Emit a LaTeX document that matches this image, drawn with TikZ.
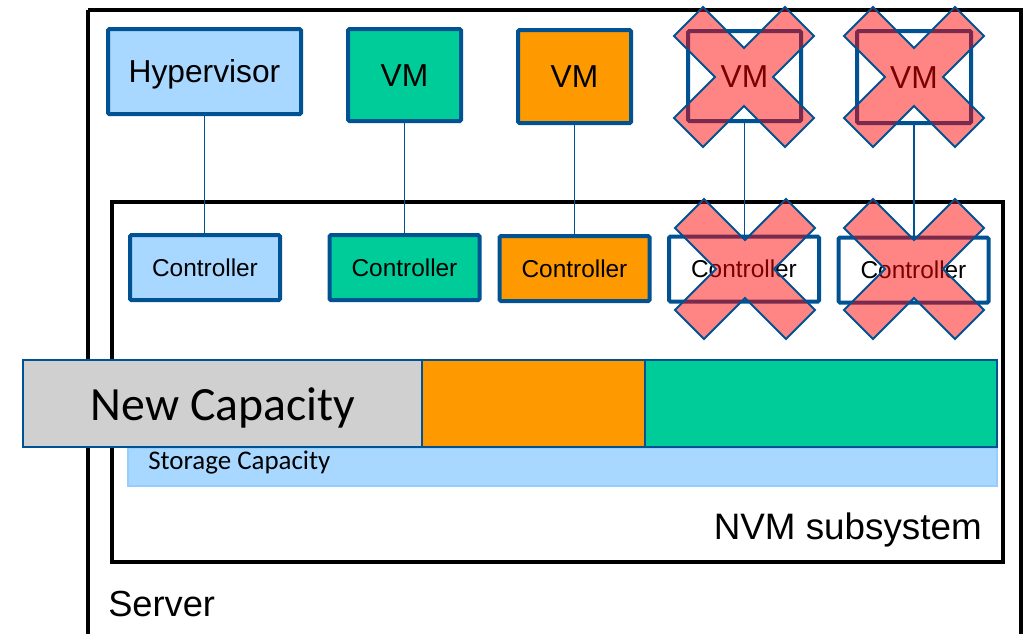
\documentclass[tikz,border=0pt]{standalone}
\usepackage{fontspec}
\setmainfont{Liberation Sans}
\newfontfamily\carl{Carlito}
\definecolor{dblue}{RGB}{0,82,147}
\definecolor{lblue}{RGB}{168,216,255}
\definecolor{sblue}{RGB}{150,205,255}
\definecolor{vgreen}{RGB}{0,204,153}
\definecolor{vorange}{RGB}{255,153,0}
\definecolor{cgray}{RGB}{208,208,208}
\tikzset{
  topbox/.style={draw=dblue, line width=3pt, rounded corners=1pt, inner sep=0pt, text height=19pt, text depth=2pt, font=\fontsize{23.8}{25}\selectfont},
  ctrlbox/.style={draw=dblue, line width=3pt, rounded corners=1pt, inner sep=0pt, text height=14pt, text depth=0.9pt, minimum width=150*0.75pt, minimum height=65*0.75pt, font=\fontsize{18.3}{20}\selectfont},
  link/.style={draw=dblue, line width=1.1pt},
  frame/.style={draw=black, line width=2.3pt},
  capbar/.style={draw=dblue, line width=1.5pt},
  xstyle/.style={fill=red, fill opacity=0.48, draw=dblue, line width=1.5pt, line join=miter},
  crossmark/.pic={\filldraw[xstyle] (0,-29) -- (41,-70) -- (70,-41) -- (29,0) -- (70,41) -- (41,70) -- (0,29) -- (-41,70) -- (-70,41) -- (-29,0) -- (-70,-41) -- (-41,-70) -- cycle;}
}
\begin{document}
\begin{tikzpicture}[x=0.75pt,y=-0.75pt]
\useasboundingbox (0,0) rectangle (1028,633);
% frames
\draw[frame] (88,10) -- (1021,10) -- (1021,645) (88,10) -- (88,645);
\draw[frame] (112,202) rectangle (1003,562);
\node[anchor=west, font=\fontsize{27.2}{29}\selectfont, inner sep=0pt] (srvlbl) at (108,604) {Server};
\node[anchor=east, font=\fontsize{27.6}{29}\selectfont, inner sep=0pt] (nvmlbl) at (982,530) {NVM subsystem};
% storage capacity
\draw[draw=sblue, fill=lblue, line width=1pt] (128,448) rectangle (997,486);
\node[anchor=west, inner sep=0pt, font=\carl\fontsize{20.2}{22}\selectfont] (stlbl) at (148,463) {Storage Capacity};
% capacity bars
\draw[capbar, fill=cgray] (23,360) rectangle (422,447);
\draw[capbar, fill=vorange] (422,360) rectangle (645,447);
\draw[capbar, fill=vgreen] (645,360) rectangle (997,447);
\node[inner sep=0pt, text height=24pt, text depth=1pt, font=\carl\fontsize{35.8}{38}\selectfont] (newcap) at (223,405) {New Capacity};
% top boxes
\node[topbox, fill=lblue, minimum width=193*0.75pt, minimum height=85*0.75pt] (hyp) at (204.5,71.5) {Hypervisor};
\node[topbox, fill=vgreen, minimum width=113*0.75pt, minimum height=92*0.75pt] (vm1) at (404.5,75) {VM};
\node[topbox, fill=vorange, minimum width=113*0.75pt, minimum height=93*0.75pt] (vm2) at (574.5,76.5) {VM};
\node[topbox, fill=white, minimum width=113*0.75pt, minimum height=90*0.75pt] (vm3) at (744.5,76) {VM};
\node[topbox, fill=white, minimum width=114*0.75pt, minimum height=92*0.75pt] (vm4) at (914,77) {VM};
% controllers
\node[ctrlbox, fill=lblue] (c0) at (205,267.5) {Controller};
\node[ctrlbox, fill=vgreen] (c1) at (404.5,267.5) {Controller};
\node[ctrlbox, fill=vorange] (c2) at (574.5,268.5) {Controller};
\node[ctrlbox, fill=white] (c3) at (744,269) {Controller};
\node[ctrlbox, fill=white] (c4) at (913.5,270) {Controller};
% links
\draw[link] (hyp.south) -- (hyp.south |- c0.north);
\draw[link] (vm1.south) -- (vm1.south |- c1.north);
\draw[link] (vm2.south) -- (vm2.south |- c2.north);
\draw[link] (vm3.south) -- (vm3.south |- c3.north);
\draw[link] (vm4.south) -- (vm4.south |- c4.north);
% crosses
\pic at (744,77) {crossmark};
\pic at (914,77) {crossmark};
\pic at (745,269) {crossmark};
\pic at (914,269) {crossmark};
\end{tikzpicture}
\end{document}
